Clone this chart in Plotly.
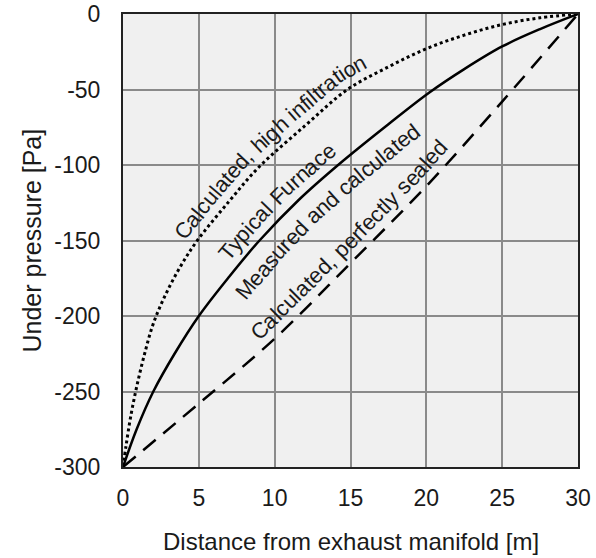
import math
import bisect
import plotly.graph_objects as go

# Distance from exhaust manifold [m] and under pressure [Pa]
high_x = [0, 0.2, 0.5, 0.9, 1.4, 2.0, 2.8, 3.8, 4.9, 7, 9, 12, 14.8, 17.5, 20, 22.5, 25, 27.5, 30]
high_y = [-300, -286, -267, -247, -226, -205, -186, -167, -150, -124, -101, -74, -50, -35, -23, -14, -7, -2.5, 0]

typ_x = [0, 0.9, 2, 3.4, 5, 7, 9, 11.6, 14.3, 17.5, 20.2, 22.5, 25, 27.5, 30]
typ_y = [-300, -275, -250, -225, -200, -174, -150, -123, -99, -73, -52, -36.5, -21.5, -10, 0]

sealed_x = [0, 5, 10, 15, 20, 25, 30]
sealed_y = [-300, -258, -215, -165, -114, -58, 0]

x_ticks = [0, 5, 10, 15, 20, 25, 30]
y_ticks = [0, -50, -100, -150, -200, -250, -300]

labels = ["Calculated, high infiltration", "Typical Furnace",
          "Measured and calculated", "Calculated, perfectly sealed"]
label_curve = ["high", "typ", "typ", "sealed"]
label_center_x = [10.0, 10.8, 12.2, 15.7]   # where the label's middle sits along its curve
label_offset = [17, 17, -21, 16]            # px away from the curve (+ = above/left)

x_title = "Distance from exhaust manifold [m]"
y_title = "Under pressure [Pa]"

FONT = "Liberation Sans, Arial, sans-serif"
TXT = "#1a1a1a"
LABEL_SIZE = 22

# ---- layout geometry (needed to bend labels along the curves) ----
FIG_W, FIG_H = 596, 558
M_L, M_R, M_T, M_B = 123, 18, 14, 91
PW = FIG_W - M_L - M_R
PH = FIG_H - M_T - M_B
SX = PW / 30.0
SY = PH / 300.0

# Arial / Liberation Sans advance widths (1/1000 em)
AW = {' ': 278, ',': 278, 'C': 722, 'T': 611, 'F': 611, 'M': 833,
      'a': 556, 'c': 500, 'd': 556, 'e': 556, 'f': 278, 'g': 556, 'h': 556,
      'i': 222, 'l': 222, 'n': 556, 'o': 556, 'p': 556, 'r': 333, 's': 500,
      't': 278, 'u': 556, 'y': 500}


def to_scr(x, y):
    return x * SX, -y * SY


def to_data(X, Y):
    return X / SX, -Y / SY


def dense(xs, ys, step=0.5):
    pts = [to_scr(x, y) for x, y in zip(xs, ys)]
    out = [pts[0]]
    for (x0, y0), (x1, y1) in zip(pts[:-1], pts[1:]):
        n = max(1, int(math.hypot(x1 - x0, y1 - y0) / step))
        for k in range(1, n + 1):
            t = k / n
            out.append((x0 + (x1 - x0) * t, y0 + (y1 - y0) * t))
    return out


def bent_label(fig, text, xs, ys, xc, d, size):
    pts = dense(xs, ys)
    n = len(pts)
    k = 40
    tans = []
    for i in range(n):
        j0, j1 = max(0, i - k), min(n - 1, i + k)
        dx = pts[j1][0] - pts[j0][0]
        dy = pts[j1][1] - pts[j0][1]
        L = math.hypot(dx, dy) or 1.0
        tans.append((dx / L, dy / L))
    off = [(p[0] + d * t[1], p[1] - d * t[0]) for p, t in zip(pts, tans)]
    cum = [0.0]
    for a, b in zip(off[:-1], off[1:]):
        cum.append(cum[-1] + math.hypot(b[0] - a[0], b[1] - a[1]))
    ic = next(i for i, p in enumerate(pts) if p[0] >= xc * SX)
    widths = [AW.get(ch, 556) * size / 1000.0 for ch in text]
    start = cum[ic] - sum(widths) / 2.0
    acc = 0.0
    for ch, w in zip(text, widths):
        s = start + acc + w / 2.0
        acc += w
        if ch == ' ':
            continue
        i = min(max(bisect.bisect_left(cum, s), 0), n - 1)
        X, Y = off[i]
        tx, ty = tans[i]
        xd, yd = to_data(X, Y)
        fig.add_annotation(x=xd, y=yd, text=ch, showarrow=False,
                           textangle=math.degrees(math.atan2(ty, tx)),
                           xanchor="center", yanchor="middle",
                           font=dict(family=FONT, size=size, color=TXT))


fig = go.Figure()
fig.add_trace(go.Scatter(x=high_x, y=high_y, mode="lines",
                         line=dict(color="black", width=3, dash="3px,3px", shape="spline", smoothing=1),
                         cliponaxis=False, showlegend=False))
fig.add_trace(go.Scatter(x=typ_x, y=typ_y, mode="lines",
                         line=dict(color="black", width=2.5, shape="spline", smoothing=1),
                         cliponaxis=False, showlegend=False))
fig.add_trace(go.Scatter(x=sealed_x, y=sealed_y, mode="lines",
                         line=dict(color="black", width=2.5, dash="16px,10px", shape="spline", smoothing=1),
                         cliponaxis=False, showlegend=False))

curves = {"high": (high_x, high_y), "typ": (typ_x, typ_y), "sealed": (sealed_x, sealed_y)}
for t, c, xc, d in zip(labels, label_curve, label_center_x, label_offset):
    cx, cy = curves[c]
    bent_label(fig, t, cx, cy, xc, d, LABEL_SIZE)

fig.add_annotation(xref="paper", yref="paper", x=0.5, y=0, yshift=-74,
                   xanchor="center", yanchor="middle", text=x_title, showarrow=False,
                   font=dict(family=FONT, size=24, color=TXT))
fig.add_annotation(xref="paper", yref="paper", x=0, y=0.5, xshift=-92,
                   xanchor="center", yanchor="middle", text=y_title, textangle=-90,
                   showarrow=False, font=dict(family=FONT, size=25, color=TXT))

fig.update_layout(
    width=FIG_W, height=FIG_H,
    margin=dict(l=M_L, r=M_R, t=M_T, b=M_B, autoexpand=False),
    paper_bgcolor="white", plot_bgcolor="#f0f0f0",
    font=dict(family=FONT, color=TXT),
)
fig.update_xaxes(range=[0, 30], tickvals=x_ticks, ticktext=[str(v) for v in x_ticks],
                 showgrid=True, gridcolor="#8a8a8a", gridwidth=1.5,
                 showline=True, linecolor="#222222", linewidth=2, mirror=True,
                 zeroline=False, ticks="", ticklabelstandoff=9, automargin=False,
                 tickfont=dict(size=23, family=FONT, color=TXT))
fig.update_yaxes(range=[-300, 0], tickvals=y_ticks, ticktext=[str(v) for v in y_ticks],
                 showgrid=True, gridcolor="#8a8a8a", gridwidth=1.5,
                 showline=True, linecolor="#222222", linewidth=2, mirror=True,
                 zeroline=False, ticks="", ticklabelstandoff=16, automargin=False,
                 tickfont=dict(size=23, family=FONT, color=TXT))

fig.write_html("out.html")
